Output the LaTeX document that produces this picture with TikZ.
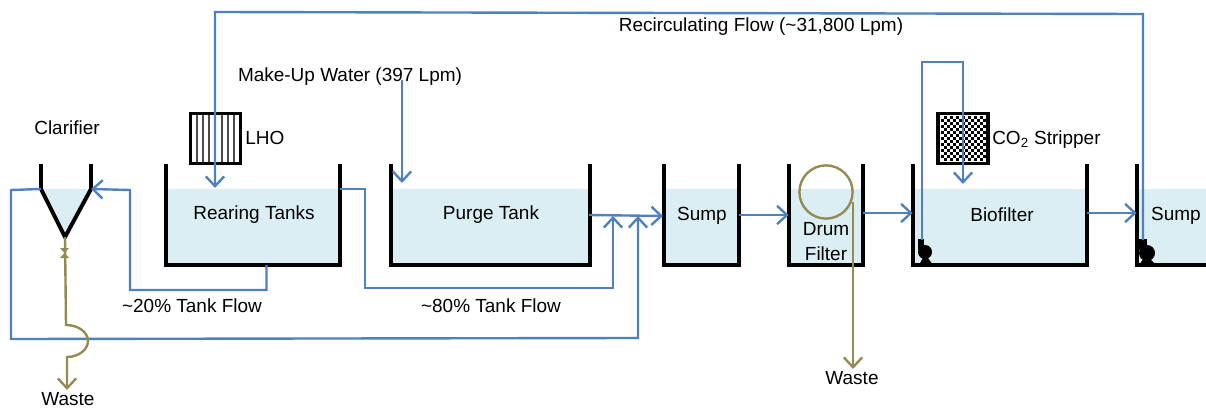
\documentclass[tikz,border=0pt]{standalone}
\usepackage{fontspec}
\setmainfont{Liberation Sans}
\usetikzlibrary{arrows.meta,positioning,calc}
\definecolor{clrFlow}{RGB}{79,129,189}
\definecolor{clrWaste}{RGB}{148,138,84}
\definecolor{clrWater}{RGB}{219,238,244}
\tikzset{
  water/.style={rectangle,fill=clrWater,inner sep=0pt,minimum height=1.9cm},
  wall/.style={line width=2.8pt,color=black},
  flow/.style={line width=1.7pt,color=clrFlow},
  flowto/.style={flow,-{Straight Barb[length=7pt,width=13pt]}},
  wasteline/.style={line width=1.7pt,color=clrWaste},
  wasteto/.style={wasteline,-{Straight Barb[length=7pt,width=13pt]}},
  lbl/.style={font=\fontsize{13.5}{17.8}\selectfont,inner sep=0pt,align=center,yshift=-1pt},
  media/.style={rectangle,draw=black,fill=white,line width=2.8pt,minimum size=1.25cm,inner sep=0pt}
}
\begin{document}
\begin{tikzpicture}[x=0.025cm,y=-0.025cm]
  \useasboundingbox (0,0) rectangle (1206,408);
  % tanks
  \node[water,minimum width=4.35cm] (rear) at (253,227) {};
  \node[water,minimum width=4.975cm] (purge) at (490.5,227) {};
  \node[water,minimum width=1.875cm] (sumpa) at (701.5,227) {};
  \node[water,minimum width=1.85cm] (drum) at (826,227) {};
  \node[water,minimum width=4.35cm] (bio) at (1000,227) {};
  \node[water,minimum width=1.725cm] (sumpb) at (1171.5,227) {};
  \foreach \tank in {rear,purge,sumpa,drum,bio}
    \draw[wall] ($(\tank.north west)+(0,-25)$) |- (\tank.south east) -- ($(\tank.north east)+(0,-25)$);
  \draw[wall] ($(sumpb.north west)+(0,-25)$) |- (sumpb.south east);
  % clarifier
  \coordinate (clarL) at (41,189);
  \coordinate (clarR) at (91,189);
  \coordinate (clarB) at (65,237);
  \fill[clrWater] (clarL) -- (clarR) -- (clarB) -- cycle;
  \draw[wall] (41,164) -- (clarL) -- (clarB) -- (clarR) -- (91,164);
  % LHO and stripper
  \node[media] (lho) at (215.5,138.5) {};
  \foreach \i in {197,203,209,215,222,228,234}
    \draw[gray!60!black,line width=1.5pt] (\i,115) -- (\i,162);
  \node[media] (strip) at (963,138.5) {};
  \foreach \i in {0,...,14}
    \foreach \j in {0,...,14}{
      \ifodd\numexpr\i+\j\relax
        \fill[black] ({940.5+3.05*\i},{115.5+3.05*\j}) rectangle ++(3.05,3.05);
      \fi
    }
  % pumps
  \fill[black] (918,239) rectangle (924,250);
  \fill[black] (925,252) circle (7);
  \fill[black] (919,265) -- (925,254) -- (933,265) -- cycle;
  \fill[black] (1139,239) rectangle (1147,250);
  \fill[black] (1147,253) circle (8);
  \fill[black] (1139,265) -- (1146,255) -- (1156,265) -- cycle;
  % free ends
  \coordinate (rearIn) at (215,188);
  \coordinate (rearOutA) at (266.5,265);
  \coordinate (rearOutB) at (340,189);
  \coordinate (purgeIn) at (402,183);
  \coordinate (makeUp) at (402,80);
  \coordinate (purgeOut) at (589,215);
  \coordinate (sumpIn) at (663,216);
  \coordinate (joinA) at (613,216);
  \coordinate (joinB) at (638,216);
  \coordinate (bioPump) at (922,240);
  \coordinate (bioIn) at (963,184);
  \coordinate (sumpPump) at (1143,240);
  % blue lines
  \draw[flowto] (sumpPump) -- (1143,14) -- (215,12) -- (rearIn);
  \draw[flowto] (makeUp) -- (purgeIn);
  \draw[flowto] (rearOutA) -- (266.5,290) -- (130,290) -- (130,190) -- (clarR);
  \draw[flowto] (rearOutB) -- (365,189) -- (365,288) -- (613,288) -- (joinA);
  \draw[flowto] (purgeOut) -- (sumpIn);
  \draw[flowto] (clarL) -- (11,190) -- (11,339) -- (638,338) -- (joinB);
  \draw[flowto] (sumpa.east |- 0,215) -- (drum.west |- 0,215);
  \draw[flowto] (drum.east |- 0,213) -- (bio.west |- 0,213);
  \draw[flowto] (bio.east |- 0,213) -- (sumpb.west |- 0,213);
  \draw[flowto] (bioPump) -- (922,62) -- (963,62) -- (bioIn);
  % waste lines
  \node[circle,draw=clrWaste,line width=1.7pt,minimum size=1.33cm,inner sep=0pt] (drumC) at (826,192) {};
  \draw[wasteto] (853,202) -- (853,369);
  \draw[wasteto] (clarB) -- (66,325) .. controls (78,325) and (88,332) .. (88,341)
    .. controls (88,350) and (78,357) .. (67,357) -- (67,390);
  \fill[clrWaste] (60,248) -- (69,248) -- (60,258) -- (69,258) -- cycle;
  % labels
  \node[lbl] (tRear) at (254,213) {Rearing Tanks};
  \node[lbl] (tPurge) at (491,213) {Purge Tank};
  \node[lbl] (tSumpa) at (702,214) {Sump};
  \node[lbl] (tDrum) at (826,240.5) {Drum\\Filter};
  \node[lbl] (tBio) at (1002,213) {Biofilter};
  \node[lbl] (tSumpb) at (1176,214) {Sump};
  \node[lbl] (tClar) at (67,126) {Clarifier};
  \node[lbl,anchor=west] (tLho) at (245,137) {LHO};
  \node[lbl,anchor=west] (tStrip) at (992,138) {CO\textsubscript{2} Stripper};
  \node[lbl] (tMake) at (350,75) {Make-Up Water (397 Lpm)};
  \node[lbl] (tRecirc) at (761,25) {Recirculating Flow (\char`\~31,800 Lpm)};
  \node[lbl] (tTwenty) at (192,304) {\char`\~20\% Tank Flow};
  \node[lbl] (tEighty) at (491,304) {\char`\~80\% Tank Flow};
  \node[lbl] (tWasteA) at (68,398) {Waste};
  \node[lbl] (tWasteB) at (852,377) {Waste};
\end{tikzpicture}
\end{document}
